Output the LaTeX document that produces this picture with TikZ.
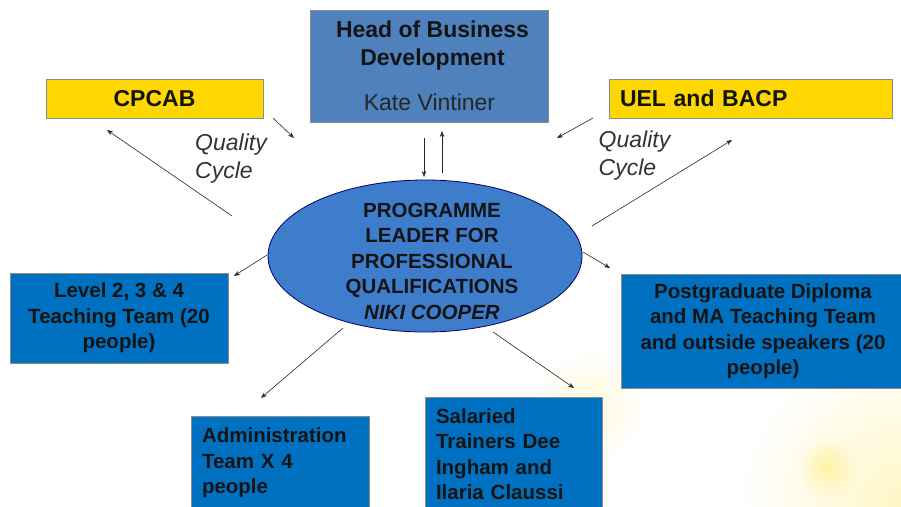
\documentclass[tikz,border=0pt]{standalone}
\usepackage{fontspec}
\setmainfont{Liberation Sans}
\usetikzlibrary{arrows.meta,shapes.geometric,fadings}
\definecolor{headblue}{RGB}{79,129,189}
\definecolor{boxblue}{RGB}{0,112,192}
\definecolor{ellblue}{RGB}{62,125,204}
\definecolor{gold}{RGB}{255,215,0}
\definecolor{txt}{RGB}{20,20,20}
\definecolor{glow}{RGB}{255,240,150}
\tikzfading[name=glowfade, inner color=transparent!0, outer color=transparent!100]
\begin{document}
\begin{tikzpicture}[x=1pt,y=-1pt,
  boxtxt/.style={font=\bfseries\fontsize{20.5}{25.5}\selectfont, text=txt},
  bluebox/.style={draw=black!45, line width=0.8pt, fill=boxblue, inner sep=0pt, boxtxt},
  yelbox/.style={draw=black!45, line width=0.8pt, fill=gold, inner sep=0pt, text=txt,
    font=\bfseries\fontsize{23}{28}\selectfont},
  qc/.style={font=\itshape\fontsize{23}{28}\selectfont, text=black!80, align=left, inner sep=0pt},
  arr/.style={-{Stealth[length=6pt,width=4.5pt]}, line width=0.6pt, black!85}
]
\useasboundingbox (0,0) rectangle (901,506);
\fill[white] (0,0) rectangle (901,506);
% background glow
\fill[glow, opacity=0.55, path fading=glowfade] (901,506) circle (160);
\fill[glow, opacity=0.35, path fading=glowfade] (590,407) circle (55);
\fill[glow, opacity=0.8, path fading=glowfade] (827,467) circle (30);

% head box
\node[draw=black!45, line width=0.8pt, fill=headblue, minimum width=238pt, minimum height=112pt, inner sep=0pt] (head) at (429,66) {};
\node[font=\bfseries\fontsize{23}{28}\selectfont, text=txt, align=center, inner sep=0pt] (headt) at (432.5,46) {Head of Business\\Development};
\node[font=\fontsize{23}{28}\selectfont, text=black!85, inner sep=0pt] (kate) at (429.5,102) {Kate Vintiner};

% yellow boxes
\node[yelbox, minimum width=217pt, minimum height=39pt] (cpcab) at (154.5,98.5) {CPCAB};
\node[yelbox, minimum width=283pt, minimum height=39pt, text width=261pt, align=left, inner xsep=11pt] (uel) at (750.5,98.5) {UEL and BACP};

% quality cycle labels
\node[qc] (qc1) at (231,159) {Quality\\Cycle};
\node[qc] (qc2) at (634.5,156) {Quality\\Cycle};

% ellipse
\node[ellipse, draw=black!60!blue, line width=0.8pt, fill=ellblue, minimum width=314pt, minimum height=152pt, inner sep=0pt] (pl) at (425,256) {};
\node[boxtxt, align=center, inner sep=0pt] (plt) at (432,261) {PROGRAMME\\LEADER FOR\\PROFESSIONAL\\QUALIFICATIONS\\\textit{NIKI COOPER}};

% blue boxes
\node[bluebox, minimum width=218pt, minimum height=90pt, align=center] (level) at (119,318) {Level 2, 3 \& 4\\Teaching Team (20\\people)};
\node[bluebox, minimum width=178pt, minimum height=94pt, text width=156pt, align=left] (admin) at (280,463) {Administration\\Team X 4\\people};
\node[bluebox, minimum width=177pt, minimum height=114pt, text width=155pt, align=left] (sal) at (513.5,454) {Salaried\\Trainers Dee\\Ingham and\\Ilaria Claussi};
\node[bluebox, minimum width=284pt, minimum height=114pt, align=center] (pg) at (763,331) {Postgraduate Diploma\\and MA Teaching Team\\and outside speakers (20\\people)};

% arrow coordinates
\coordinate (d1) at (424,138); \coordinate (d2) at (424,177);
\coordinate (u1) at (442,173); \coordinate (u2) at (442,131);
\coordinate (cs1) at (273,118); \coordinate (cs2) at (294,138);
\coordinate (cl1) at (232,216); \coordinate (cl2) at (107,130);
\coordinate (us1) at (593,118); \coordinate (us2) at (557,138);
\coordinate (ul1) at (592,226); \coordinate (ul2) at (732,140);
\coordinate (l1) at (267,255); \coordinate (l2) at (234,276);
\coordinate (a1) at (343,328); \coordinate (a2) at (261,398);
\coordinate (s1) at (493,332); \coordinate (s2) at (574,388);
\coordinate (p1) at (583,252); \coordinate (p2) at (610,268);

\draw[arr] (d1) -- (d2);
\draw[arr] (u1) -- (u2);
\draw[arr] (cs1) -- (cs2);
\draw[arr] (cl1) -- (cl2);
\draw[arr] (us1) -- (us2);
\draw[arr] (ul1) -- (ul2);
\draw[arr] (l1) -- (l2);
\draw[arr] (a1) -- (a2);
\draw[arr] (s1) -- (s2);
\draw[arr] (p1) -- (p2);
\end{tikzpicture}
\end{document}
